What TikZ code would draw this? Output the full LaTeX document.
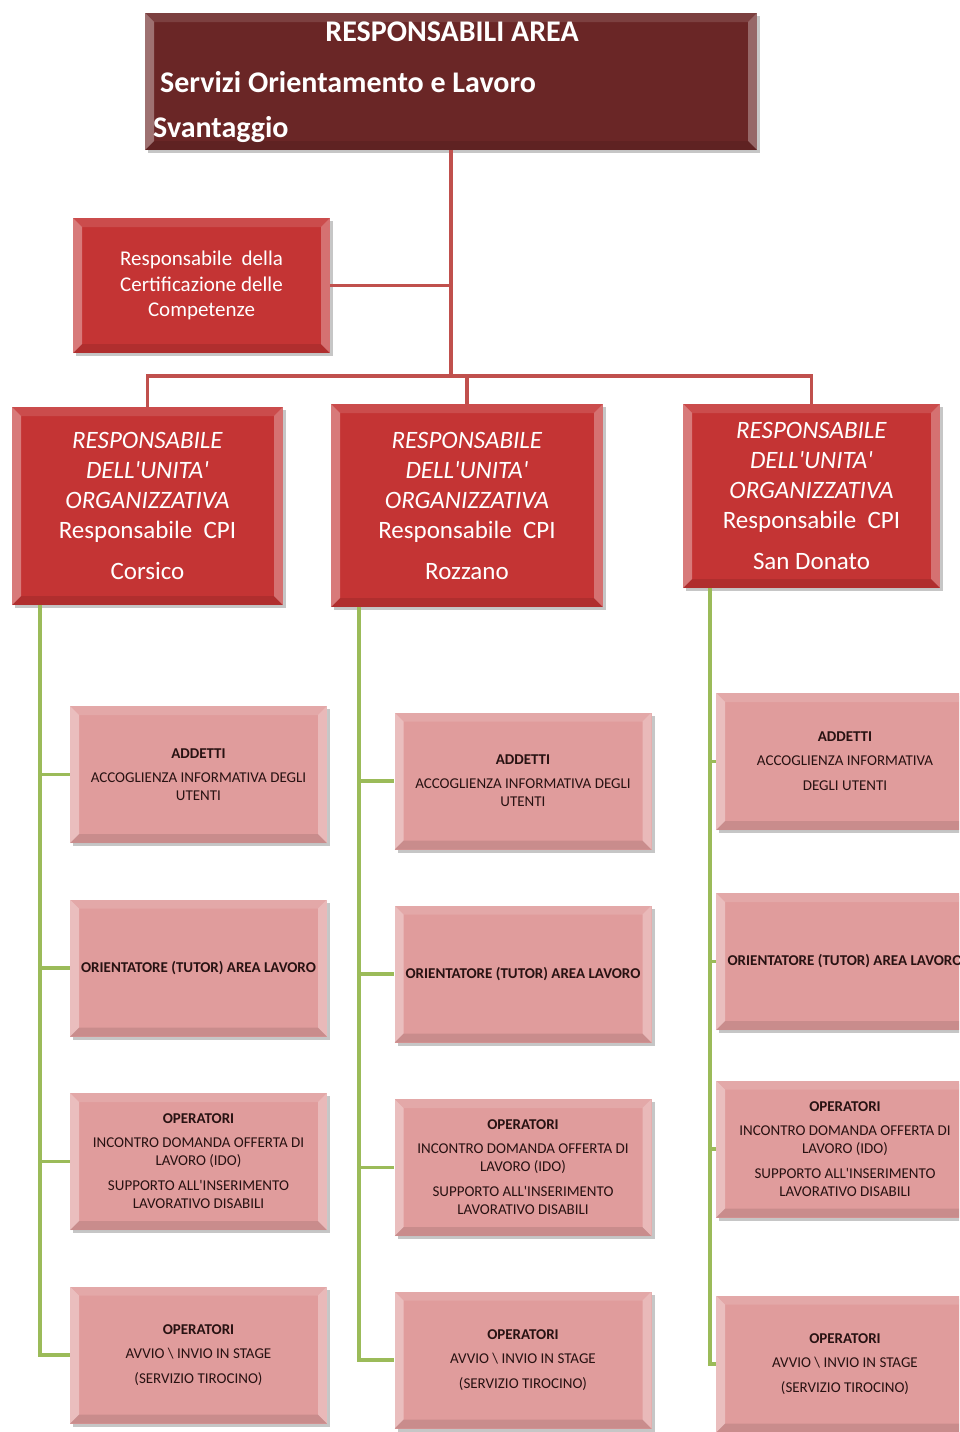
\documentclass[tikz,border=0pt]{standalone}
\usepackage{fontspec}
\setmainfont{Carlito}[Ligatures=TeXOff]
\usetikzlibrary{shadows}

\definecolor{areared}{RGB}{106,38,38}
\definecolor{boxred}{RGB}{196,52,52}
\definecolor{boxpink}{RGB}{224,156,156}
\definecolor{linered}{RGB}{192,80,77}
\definecolor{linegreen}{RGB}{155,187,89}
\definecolor{pinktext}{RGB}{40,18,18}

\tikzset{
  bevel/.style={path picture={
      \path (path picture bounding box.north west) coordinate (pnw)
            (path picture bounding box.north east) coordinate (pne)
            (path picture bounding box.south west) coordinate (psw)
            (path picture bounding box.south east) coordinate (pse);
      \fill[white,opacity=.35] (pnw) -- (psw) -- ([shift={(9pt,9pt)}]psw) -- ([shift={(9pt,-9pt)}]pnw) -- cycle;
      \fill[white,opacity=.12] (pnw) -- (pne) -- ([shift={(-9pt,-9pt)}]pne) -- ([shift={(9pt,-9pt)}]pnw) -- cycle;
      \fill[white,opacity=.3] (pne) -- (pse) -- ([shift={(-9pt,9pt)}]pse) -- ([shift={(-9pt,-9pt)}]pne) -- cycle;
      \fill[black,opacity=.1] (psw) -- (pse) -- ([shift={(-9pt,9pt)}]pse) -- ([shift={(9pt,9pt)}]psw) -- cycle;
    }},
  boxbase/.style={rectangle,inner sep=2pt,align=center,bevel,
    drop shadow={shadow xshift=3pt,shadow yshift=-3pt,fill=gray,opacity=.45}},
  areabox/.style={boxbase,fill=areared,minimum width=612pt,minimum height=137pt},
  certbox/.style={boxbase,fill=boxred,text=white,minimum width=257pt,minimum height=135pt,
    font=\fontsize{21}{25.5}\selectfont},
  cpibox/.style={boxbase,fill=boxred,text=white,minimum width=#1,
    font=\fontsize{25}{30}\selectfont},
  pinkbox/.style={boxbase,fill=boxpink,text=pinktext,minimum width=257pt,minimum height=137pt,
    font=\fontsize{15}{18}\selectfont},
  titletext/.style={text=white,inner sep=0pt,font=\fontsize{30}{34}\selectfont\bfseries},
  redline/.style={draw=linered,line width=3.5pt},
  greenline/.style={draw=linegreen,line width=3.5pt},
}

\newcommand{\cpitext}[1]{\textit{RESPONSABILE}\\\textit{DELL'UNITA'}\\\textit{ORGANIZZATIVA}\\Responsabile~~CPI\\[11pt]#1}

\begin{document}
\begin{tikzpicture}[x=1pt,y=-1pt]
  \clip (0,0) rectangle (959,1432);

  % connectors
  \coordinate (hub) at (451,376);
  \node[areabox] (area) at (451,81.5) {};
  \node[certbox] (cert) at (201.5,285.5) {Responsabile~ della\\Certificazione delle\\Competenze};
  \node[cpibox=271pt,minimum height=198pt] (corsico) at (147.5,506) {\cpitext{Corsico}};
  \node[cpibox=272pt,minimum height=203pt] (rozzano) at (467,505.5) {\cpitext{Rozzano}};
  \node[cpibox=257pt,minimum height=184pt] (donato) at (811.5,496) {\cpitext{San Donato}};

  \draw[redline] (area.south) -- (hub);
  \draw[redline] (cert.east) -- (cert.east -| hub);
  \draw[redline] (corsico.north) |- (hub) -| (donato.north);
  \draw[redline] (hub -| rozzano.north) -- (rozzano.north);

  \node[titletext] (t1) at (452,32) {RESPONSABILI AREA};
  \node[titletext,anchor=west] (t2) at (160,82) {Servizi Orientamento e Lavoro};
  \node[titletext,anchor=west] (t3) at (153,130) {Svantaggio};

  % green lines
  \coordinate (gc) at ([xshift=28pt]corsico.south west);
  \coordinate (gr) at ([xshift=28pt]rozzano.south west);
  \coordinate (gd) at ([xshift=27pt]donato.south west);

  % pink boxes, one column per CPI
  \foreach \col/\cx/\ya/\yb/\yc/\yd in {c/198.5/774.5/968/1161.5/1355, r/523/781/974/1167.5/1360}{
    \node[pinkbox] (\col1) at (\cx,\ya) {\textbf{ADDETTI}\\[6pt]ACCOGLIENZA INFORMATIVA DEGLI\\UTENTI};
    \node[pinkbox] (\col2) at (\cx,\yb) {\textbf{ORIENTATORE (TUTOR) AREA LAVORO}};
    \node[pinkbox] (\col3) at (\cx,\yc) {\textbf{OPERATORI}\\[6pt]INCONTRO DOMANDA OFFERTA DI\\LAVORO (IDO)\\[7pt]SUPPORTO ALL'INSERIMENTO\\LAVORATIVO DISABILI};
    \node[pinkbox] (\col4) at (\cx,\yd) {\textbf{OPERATORI}\\[6pt]AVVIO \textbackslash\ INVIO IN STAGE\\[7pt](SERVIZIO TIROCINO)};
  }
  \node[pinkbox,minimum width=258pt] (d1) at (845,761.5) {\textbf{ADDETTI}\\[6pt]ACCOGLIENZA INFORMATIVA\\[7pt]DEGLI UTENTI};
  \node[pinkbox,minimum width=258pt] (d2) at (845,961.5) {\textbf{ORIENTATORE (TUTOR) AREA LAVORO}};
  \node[pinkbox,minimum width=258pt] (d3) at (845,1149) {\textbf{OPERATORI}\\[6pt]INCONTRO DOMANDA OFFERTA DI\\LAVORO (IDO)\\[7pt]SUPPORTO ALL'INSERIMENTO\\LAVORATIVO DISABILI};
  \node[pinkbox,minimum width=258pt] (d4) at (845,1364) {\textbf{OPERATORI}\\[6pt]AVVIO \textbackslash\ INVIO IN STAGE\\[7pt](SERVIZIO TIROCINO)};

  \foreach \n in {1,2,3,4}{
    \draw[greenline] (gc) |- (c\n.west);
    \draw[greenline] (gr) |- (r\n.west);
    \draw[greenline] (gd) |- (d\n.west);
  }
\end{tikzpicture}
\end{document}
